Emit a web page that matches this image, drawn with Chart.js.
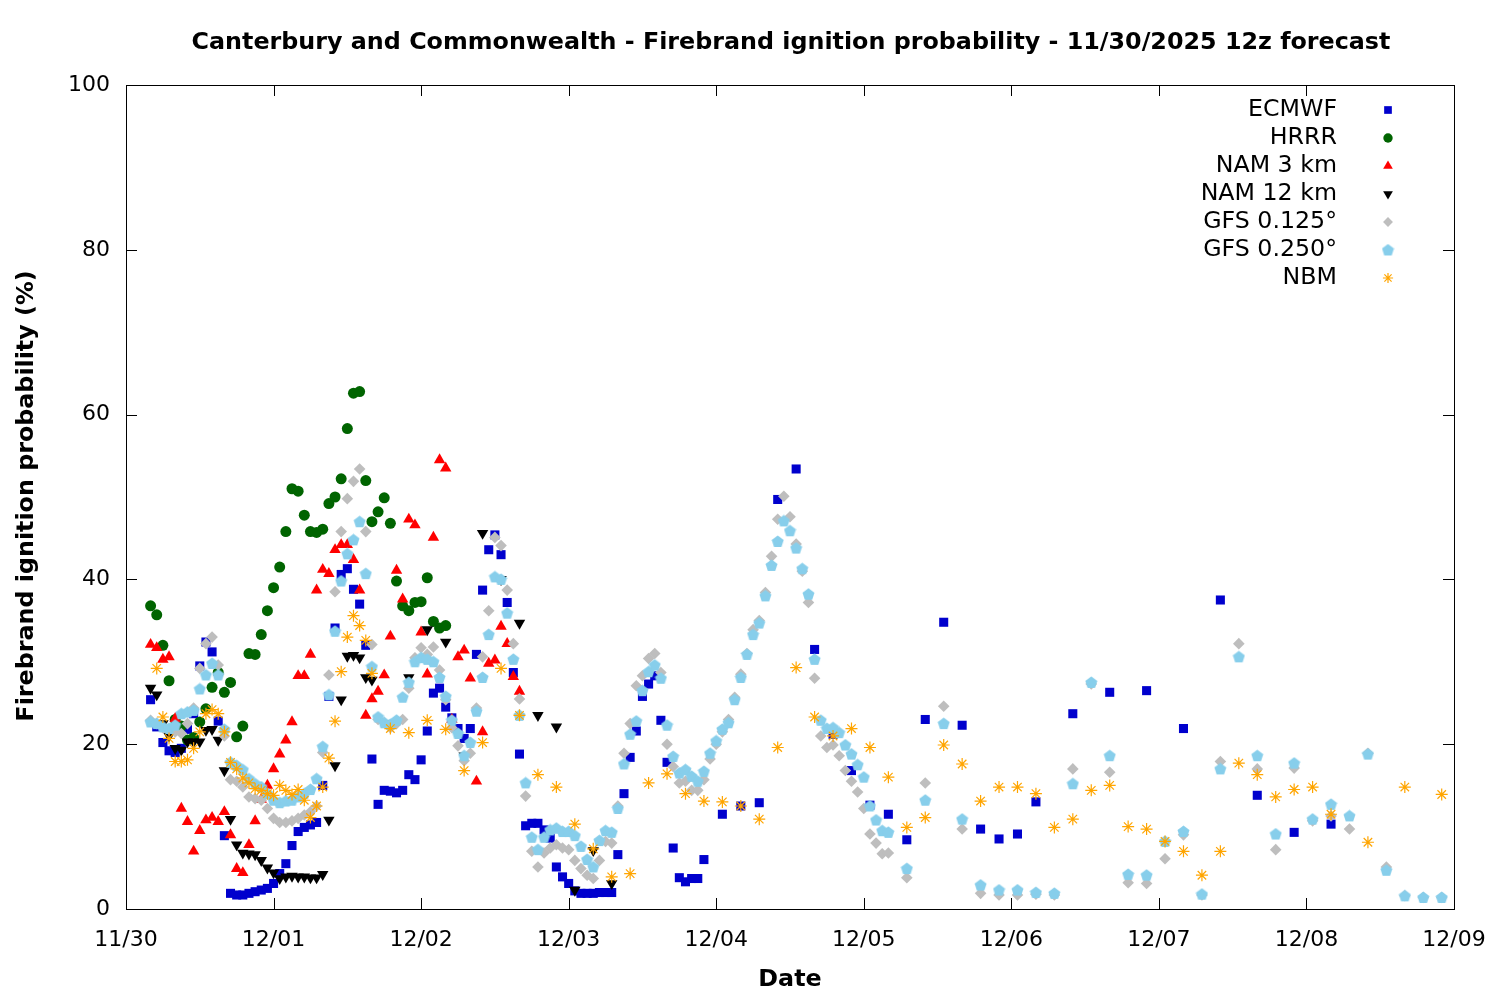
<!DOCTYPE html>
<html>
<head>
<meta charset="utf-8">
<script src="https://cdn.jsdelivr.net/npm/chart.js@4.4.0/dist/chart.umd.min.js"></script>
<style>
  body { margin: 0; background: #fff; }
  #wrap { width: 1500px; height: 1000px; }
</style>
</head>
<body>
<div id="wrap"><canvas id="chart" width="1500" height="1000"></canvas></div>
<script>
// hours after 11/30 00z
function span(a, b, step) { var out = []; for (var h = a; h <= b; h += step) out.push(h); return out; }

const dayLabels = ['11/30', '12/01', '12/02', '12/03', '12/04', '12/05', '12/06', '12/07', '12/08', '12/09'];
const yTicks = [0, 20, 40, 60, 80, 100];

const ecmwfHours = span(4, 94, 1).concat(span(97, 148, 3), span(154, 196, 6));
const ecmwfValues = [25.4, 22.1, 20.2, 19.2, 19.0, 19.5, 21.8, 23.7, 29.5, 32.4, 31.2, 22.8, 8.9, 1.9, 1.7, 1.7, 1.9, 2.1, 2.3, 2.5,
  3.1, 4.3, 5.5, 7.7, 9.4, 9.9, 10.2, 10.5, 15.0, 25.8, 34.1, 40.6, 41.3, 38.8, 37.0, 32.0, 18.2, 12.7, 14.4, 14.3,
  14.1, 14.4, 16.3, 15.7, 18.1, 21.6, 26.2, 26.8, 24.5, 23.2, 21.9, 20.7, 21.9, 30.9, 38.7, 43.6, 45.4, 43.0, 37.2, 28.7,
  18.8, 10.1, 10.4, 10.4, 9.6, 8.6, 5.1, 3.9, 3.1, 2.2, 1.9, 1.9, 1.9, 2.0, 2.0, 2.0, 6.6, 14.0, 18.4, 21.6,
  25.8, 27.3, 28.3, 22.9, 17.8, 7.4, 3.8, 3.3, 3.7, 3.7, 6.0,
  11.5, 12.5, 12.9, 49.7, 53.4, 31.5, 21.2, 16.8, 12.6, 11.5, 8.4, 23.0, 34.8, 22.3, 9.7, 8.5, 9.1, 13.0,
  23.7, 26.3, 26.5, 21.9, 37.5, 13.8, 9.3, 10.3];

const hrrrHours = span(4, 52, 1);
const hrrrValues = [36.8, 35.7, 32.0, 27.7, 23.0, 22.2, 20.5, 20.8, 22.7, 24.3, 26.9, 28.7, 26.3, 27.5, 20.9, 22.2, 31.0, 30.9, 33.3, 36.2,
  39.0, 41.5, 45.8, 51.0, 50.7, 47.8, 45.8, 45.7, 46.1, 49.2, 50.0, 52.2, 58.3, 62.6, 62.8, 52.0, 47.0, 48.2, 49.9, 46.8,
  39.8, 36.8, 36.2, 37.2, 37.3, 40.2, 34.9, 34.1, 34.4];

const nam3Hours = span(4, 64, 1);
const nam3Values = [32.1, 31.7, 30.3, 30.6, 23.1, 12.2, 10.6, 7.0, 9.5, 10.8, 11.1, 10.6, 11.8, 9.0, 4.9, 4.4, 7.8, 10.7, 13.3, 15.0,
  17.0, 18.8, 20.5, 22.7, 28.3, 28.3, 30.9, 38.7, 41.2, 40.7, 43.6, 44.2, 44.2, 42.4, 38.7, 23.5, 25.5, 26.4, 28.4, 33.1,
  41.1, 37.6, 47.3, 46.6, 33.6, 28.5, 45.1, 54.5, 53.5, 23.0, 30.6, 31.4, 28.0, 15.5, 21.5, 29.8, 30.2, 34.3, 32.2, 28.2,
  26.4];

const nam12Hours = span(4, 40, 1).concat(span(43, 79, 3));
const nam12Values = [26.8, 26.0, 22.5, 21.0, 19.5, 19.3, 20.3, 20.3, 20.3, 21.7, 21.8, 20.5, 16.8, 10.9, 7.8, 6.8, 6.7, 6.6, 5.9, 5.0,
  4.4, 3.7, 3.9, 4.0, 3.9, 3.9, 3.8, 3.8, 4.2, 10.8, 17.4, 25.4, 30.7, 30.8, 30.5, 28.1, 27.8,
  22.5, 28.1, 33.9, 32.4, 18.6, 45.6, 40.0, 34.7, 23.5, 22.1, 2.3, 7.1, 3.1];

const gfsHours = span(4, 124, 1).concat(span(127, 214, 3));
const gfs125Values = [22.9, 22.5, 22.0, 21.8, 21.5, 21.3, 22.5, 24.4, 29.2, 32.2, 33.0, 29.6, 21.0, 15.7, 15.5, 14.8, 13.6, 13.4, 13.2, 12.2,
  11.0, 10.5, 10.5, 10.7, 11.0, 11.4, 11.8, 12.5, 19.0, 28.4, 38.5, 45.8, 49.8, 51.9, 53.4, 45.8, 32.1, 23.0, 22.6, 22.0,
  22.5, 23.0, 26.8, 30.5, 31.7, 30.9, 31.8, 29.0, 25.4, 22.0, 19.8, 18.0, 18.9, 24.4, 30.6, 36.2, 45.1, 44.1, 38.7, 32.2,
  25.5, 13.7, 7.0, 5.1, 6.8, 7.4, 7.8, 7.4, 7.2, 5.9, 4.9, 4.1, 3.7, 5.9, 8.2, 8.0, 12.5, 18.9, 22.5, 27.1,
  28.3, 30.4, 31.0, 28.7, 20.0, 17.3, 15.3, 15.5, 14.4, 14.4, 15.7, 18.2, 20.0, 21.5, 23.0, 25.7, 28.5, 31.0, 33.9, 35.0,
  38.4, 42.8, 47.3, 50.1, 47.6, 44.3, 41.0, 37.2, 28.0, 21.0, 19.6, 19.9, 18.6, 16.8, 15.5, 14.2, 12.2, 9.1, 8.0, 6.7,
  6.8,
  3.8, 15.3, 24.6, 9.7, 1.9, 1.7, 1.7, 1.8, 1.7, 17.0, 27.3, 16.6, 3.2, 3.1, 6.1, 9.0, 1.7, 17.9, 32.2, 17.0,
  7.2, 17.1, 10.7, 11.3, 9.7, 18.9, 5.1, 1.6, 1.4, 1.4];
const gfs250Values = [22.7, 22.5, 22.1, 21.9, 22.3, 23.7, 23.9, 24.1, 26.7, 28.4, 29.8, 28.4, 21.8, 17.8, 17.4, 16.9, 15.8, 15.2, 14.8, 14.0,
  13.2, 12.9, 13.1, 13.2, 13.6, 14.0, 14.5, 15.8, 19.7, 26.0, 33.7, 39.8, 43.1, 44.8, 47.0, 40.7, 29.4, 23.3, 22.6, 22.4,
  22.9, 25.7, 27.5, 30.0, 30.5, 30.3, 30.0, 28.1, 25.8, 22.9, 21.3, 18.6, 20.2, 24.0, 28.1, 33.3, 40.3, 40.0, 35.9, 30.3,
  23.5, 15.3, 8.7, 7.2, 8.7, 9.6, 9.8, 9.4, 9.4, 8.9, 7.6, 6.0, 5.1, 8.3, 9.5, 9.3, 12.2, 17.6, 21.2, 22.8,
  26.5, 28.8, 29.6, 28.0, 22.3, 18.5, 16.5, 16.9, 16.1, 15.5, 16.7, 18.9, 20.4, 21.8, 22.6, 25.4, 28.1, 30.9, 33.3, 34.7,
  38.0, 41.7, 44.6, 47.1, 45.9, 43.8, 41.3, 38.2, 30.3, 22.9, 21.9, 22.0, 21.4, 19.9, 18.8, 17.5, 16.0, 12.5, 10.8, 9.5,
  9.3,
  4.9, 13.2, 22.5, 10.9, 2.9, 2.3, 2.3, 2.0, 1.9, 15.2, 27.5, 18.6, 4.2, 4.1, 8.2, 9.4, 1.8, 17.0, 30.6, 18.6,
  9.1, 17.7, 10.9, 12.7, 11.3, 18.8, 4.7, 1.6, 1.4, 1.4];

const nbmHours = span(5, 40, 1).concat(span(43, 196, 3), span(202, 214, 6));
const nbmValues = [29.2, 23.3, 20.7, 17.9, 17.9, 18.1, 19.5, 21.5, 23.7, 24.2, 23.7, 21.5, 17.8, 17.0, 15.9, 15.3, 14.6, 14.4, 14.0, 13.8,
  15.0, 14.4, 13.9, 14.5, 13.2, 11.1, 12.5, 14.8, 18.3, 22.8, 28.8, 33.0, 35.6, 34.4, 32.6, 28.6,
  21.9, 21.4, 22.9, 21.8, 16.8, 20.2, 29.2, 23.5, 16.3, 14.8, 10.3, 7.3, 3.9, 4.3, 15.3, 16.4, 14.0, 13.1, 13.0, 12.5,
  10.9, 19.6, 29.3, 23.3, 21.0, 21.9, 19.6, 16.0, 9.9, 11.1, 19.9, 17.6, 13.1, 14.8, 14.8, 14.0, 9.9, 10.9, 14.4, 15.0,
  10.0, 9.7, 8.2, 7.0, 4.1, 7.0, 17.7, 16.3, 13.6, 14.5, 14.8, 11.5,
  8.1, 14.8, 13.9];

function pts(hours, values) {
  return hours.map(function (h, i) { return { x: h, y: values[i] }; });
}

// pentagon marker for GFS 0.250
const pent = document.createElement('canvas');
pent.width = 13; pent.height = 13;
(function () {
  var c = pent.getContext('2d');
  c.fillStyle = '#87ceeb';
  c.beginPath();
  for (var k = 0; k < 5; k++) {
    var a = -Math.PI / 2 + k * 2 * Math.PI / 5;
    var px = 6.5 + 6.3 * Math.cos(a), py = 6.9 + 6.3 * Math.sin(a);
    if (k === 0) c.moveTo(px, py); else c.lineTo(px, py);
  }
  c.closePath();
  c.fill();
})();

const series = [
  { label: 'ECMWF', data: pts(ecmwfHours, ecmwfValues), color: '#0000cd', style: 'rect', radius: 6.4, rotation: 0, order: 7 },
  { label: 'HRRR', data: pts(hrrrHours, hrrrValues), color: '#006400', style: 'circle', radius: 5.5, rotation: 0, order: 6 },
  { label: 'NAM 3 km', data: pts(nam3Hours, nam3Values), color: '#ff0000', style: 'triangle', radius: 6.6, rotation: 0, order: 5 },
  { label: 'NAM 12 km', data: pts(nam12Hours, nam12Values), color: '#000000', style: 'triangle', radius: 6.6, rotation: 180, order: 4 },
  { label: 'GFS 0.125°', data: pts(gfsHours, gfs125Values), color: '#bebebe', style: 'rectRot', radius: 5.8, rotation: 0, order: 3 },
  { label: 'GFS 0.250°', data: pts(gfsHours, gfs250Values), color: '#87ceeb', style: pent, radius: 6, rotation: 0, order: 2 },
  { label: 'NBM', data: pts(nbmHours, nbmValues), color: '#ffa500', style: 'star', radius: 6, rotation: 0, order: 1, line: true }
];

const FONT = '"DejaVu Sans", sans-serif';

const framePlugin = {
  id: 'frame',
  beforeDatasetsDraw(chart) {
    const ctx = chart.ctx, a = chart.chartArea;
    const xs = chart.scales.x, ys = chart.scales.y;
    ctx.save();
    ctx.strokeStyle = '#000';
    ctx.lineWidth = 1;
    ctx.strokeRect(Math.round(a.left) + 0.5, Math.round(a.top) + 0.5, Math.round(a.right - a.left), Math.round(a.bottom - a.top));
    ctx.beginPath();
    dayLabels.forEach(function (d, i) {
      const px = Math.round(xs.getPixelForValue(i * 24)) + 0.5;
      ctx.moveTo(px, a.bottom); ctx.lineTo(px, a.bottom - 11);
      ctx.moveTo(px, a.top); ctx.lineTo(px, a.top + 11);
    });
    yTicks.forEach(function (v) {
      const py = Math.round(ys.getPixelForValue(v)) + 0.5;
      ctx.moveTo(a.left, py); ctx.lineTo(a.left + 11, py);
      ctx.moveTo(a.right, py); ctx.lineTo(a.right - 11, py);
    });
    ctx.stroke();

    ctx.fillStyle = '#000';
    ctx.font = 'bold 23.8px ' + FONT;
    ctx.textAlign = 'center';
    ctx.textBaseline = 'middle';
    ctx.fillText('Canterbury and Commonwealth - Firebrand ignition probability - 11/30/2025 12z forecast', 791, 43);
    ctx.fillText('Date', (a.left + a.right) / 2, 980);
    ctx.save();
    ctx.translate(27, 496);
    ctx.rotate(-Math.PI / 2);
    ctx.fillText('Firebrand ignition probability (%)', 0, 0);
    ctx.restore();
    ctx.restore();
  },
  afterDatasetsDraw(chart) {
    const ctx = chart.ctx;
    ctx.save();
    ctx.font = '23.7px ' + FONT;
    ctx.textAlign = 'right';
    ctx.textBaseline = 'middle';
    series.forEach(function (s, i) {
      const y = 110 + i * 28;
      ctx.fillStyle = '#000';
      ctx.fillText(s.label, 1337, y);
      ctx.fillStyle = s.color;
      ctx.strokeStyle = s.color;
      ctx.lineWidth = s.line ? 1.2 : 0;
      Chart.helpers.drawPoint(ctx, {
        pointStyle: s.style, rotation: s.rotation, radius: s.radius * 0.85,
        borderWidth: s.line ? 1.2 : 0
      }, 1388, y);
    });
    ctx.restore();
  }
};

new Chart(document.getElementById('chart'), {
  type: 'scatter',
  data: {
    datasets: series.map(function (s) {
      return {
        label: s.label,
        data: s.data,
        order: s.order,
        showLine: false,
        pointStyle: s.style,
        pointRotation: s.rotation,
        pointRadius: s.radius,
        pointBackgroundColor: s.color,
        pointBorderColor: s.color,
        pointBorderWidth: s.line ? 1.2 : 0
      };
    })
  },
  options: {
    responsive: false,
    devicePixelRatio: 1,
    animation: false,
    events: [],
    layout: { padding: { left: 0, right: 46, top: 85, bottom: 0 } },
    plugins: { legend: { display: false }, title: { display: false }, tooltip: { enabled: false } },
    scales: {
      x: {
        type: 'linear', min: 0, max: 216,
        grid: { display: false, drawTicks: false },
        border: { display: false },
        afterFit: function (s) { s.height = 91; s.paddingLeft = 0; s.paddingRight = 0; },
        afterBuildTicks: function (s) { s.ticks = dayLabels.map(function (d, i) { return { value: i * 24 }; }); },
        ticks: {
          padding: 18, color: '#000', maxRotation: 0, autoSkip: false,
          font: { family: FONT, size: 22 },
          callback: function (v) { return dayLabels[Math.round(v / 24)]; }
        }
      },
      y: {
        min: 0, max: 100,
        grid: { display: false, drawTicks: false },
        border: { display: false },
        afterFit: function (s) { s.width = 126; s.paddingTop = 0; s.paddingBottom = 0; },
        ticks: {
          stepSize: 20, padding: 16, color: '#000',
          font: { family: FONT, size: 22 }
        }
      }
    }
  },
  plugins: [framePlugin]
});
</script>
</body>
</html>
